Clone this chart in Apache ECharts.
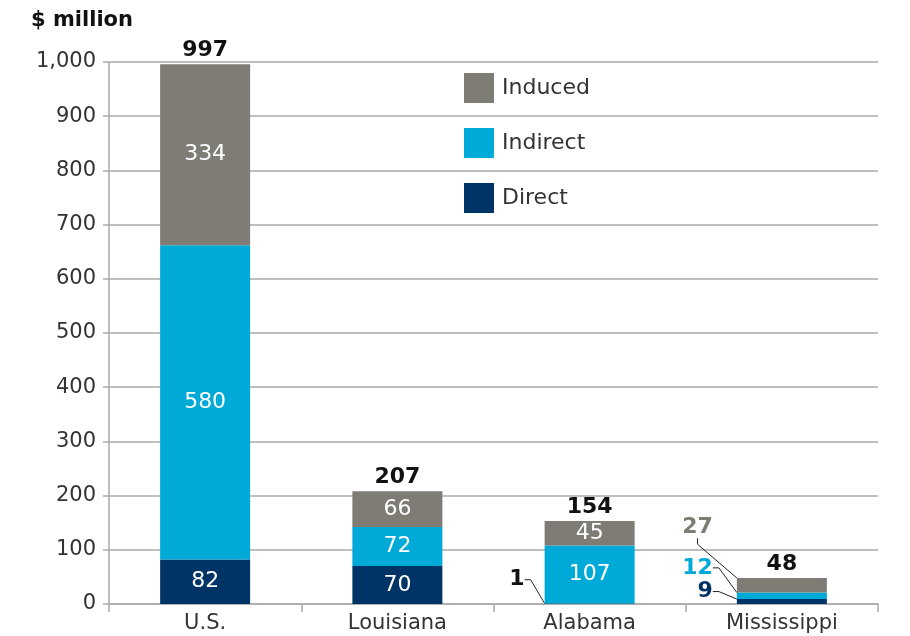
<!DOCTYPE html>
<html>
<head>
<meta charset="utf-8">
<script src="https://cdn.jsdelivr.net/npm/echarts@6/dist/echarts.min.js"></script>
<style>
  html, body { margin: 0; padding: 0; background: #fff; }
  #chart { width: 910px; height: 636px; }
</style>
</head>
<body>
<div id="chart"></div>
<script>
const categories = ["U.S.", "Louisiana", "Alabama", "Mississippi"];
const direct = [82, 70, 1, 9];
const indirect = [580, 72, 107, 12];
const induced = [334, 66, 45, 27];
const totals = [997, 207, 154, 48];
const yTicks = { min: 0, max: 1000, interval: 100 };

const FONT = "DejaVu Sans";
const GRAY = "#7f7c75";
const CYAN = "#00aad8";
const NAVY = "#003466";

const chart = echarts.init(document.getElementById("chart"));

const insideLabel = { show: true, position: "inside", color: "#fff", fontFamily: FONT, fontSize: 22 };

// thin segments get their label outside on the left, moved up with a leader line
// offsets: { dataIndex: [dx, dy] }
function sideSeries(name, values, color, labelColor, offsets) {
  return {
    name: name, type: "bar", stack: "t", barWidth: 90,
    itemStyle: { color: color },
    label: insideLabel,
    labelLine: { show: true, length2: 6, lineStyle: { color: "#222", width: 1 } },
    labelLayout: p => {
      const o = offsets[p.dataIndex];
      return o ? { dx: o[0], dy: o[1] } : {};
    },
    data: values.map((v, i) => {
      if (!offsets[i]) return v;
      return {
        value: v,
        label: { position: "left", distance: 6, color: labelColor, fontWeight: "bold", fontSize: 22 }
      };
    })
  };
}

const option = {
  animation: false,
  grid: { left: 109, right: 32, top: 62, bottom: 32 },
  legend: {
    data: ["Induced", "Indirect", "Direct"],
    orient: "vertical",
    left: 464,
    top: 73,
    padding: 0,
    itemWidth: 30,
    itemHeight: 30,
    itemGap: 25,
    icon: "rect",
    textStyle: { fontFamily: FONT, fontSize: 22, color: "#333", padding: [0, 0, 0, 3] }
  },
  graphic: [{
    type: "text",
    left: 31,
    top: 10,
    style: { text: "$ million", font: "bold 21px 'DejaVu Sans'", fill: "#111" }
  }],
  xAxis: {
    type: "category",
    data: categories,
    axisLine: { lineStyle: { color: "#aaa", width: 1.5 } },
    axisTick: { show: true, length: 8, lineStyle: { color: "#aaa", width: 1.5 } },
    axisLabel: { fontFamily: FONT, fontSize: 21, color: "#333", margin: 9 }
  },
  yAxis: {
    type: "value",
    min: yTicks.min,
    max: yTicks.max,
    interval: yTicks.interval,
    axisLine: { show: true, lineStyle: { color: "#aaa", width: 1.5 } },
    axisTick: { show: true, length: 6, lineStyle: { color: "#aaa", width: 1.5 } },
    splitLine: { lineStyle: { color: "#aaa", width: 1.5 } },
    axisLabel: {
      fontFamily: FONT, fontSize: 21, color: "#333", margin: 13,
      formatter: v => v.toLocaleString("en-US")
    }
  },
  series: [
    sideSeries("Direct", direct, NAVY, NAVY, { 2: [-14, -24], 3: [-18, -10] }),
    sideSeries("Indirect", indirect, CYAN, CYAN, { 3: [-18, -28] }),
    sideSeries("Induced", induced, GRAY, GRAY, { 3: [-18, -58] }),
    {
      name: "Total", type: "bar", stack: "t",
      data: totals.map(() => 0),
      label: {
        show: true, position: "top", distance: 3, color: "#111",
        fontFamily: FONT, fontSize: 22, fontWeight: "bold",
        formatter: p => totals[p.dataIndex]
      }
    }
  ]
};

// Alabama "1" label is black in the reference
option.series[0].data[2].label.color = "#111";

chart.setOption(option);
</script>
</body>
</html>
